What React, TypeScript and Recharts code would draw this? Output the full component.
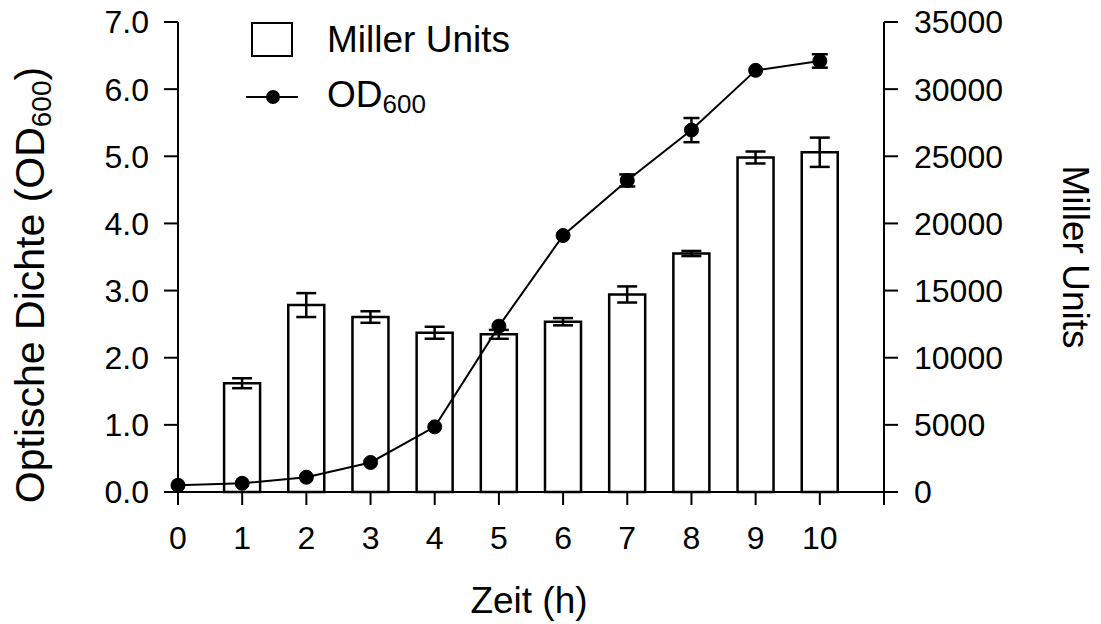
import { ComposedChart, Bar, Line, XAxis, YAxis, ErrorBar } from "recharts";

const hours = [0, 1, 2, 3, 4, 5, 6, 7, 8, 9, 10];
const od600 = [0.1, 0.13, 0.22, 0.44, 0.97, 2.47, 3.82, 4.64, 5.39, 6.28, 6.42];
const od600Err = [0, 0, 0, 0, 0, 0, 0, 0.09, 0.18, 0, 0.1];
const miller = [null, 8100, 13920, 13030, 11860, 11740, 12680, 14710, 17760, 24910, 25300];
const millerErr = [0, 370, 890, 430, 445, 330, 270, 600, 190, 445, 1090];

const xTicks = [0, 1, 2, 3, 4, 5, 6, 7, 8, 9, 10, 11];
const odTicks = [0, 1, 2, 3, 4, 5, 6, 7];
const millerTicks = [0, 5000, 10000, 15000, 20000, 25000, 30000, 35000];

const data = hours.map((h, i) => ({
  h,
  od: od600[i],
  odErr: od600Err[i],
  miller: miller[i],
  millerErr: millerErr[i],
}));

const FONT = "'Liberation Sans', Arial, sans-serif";
const tickStyle = { fontSize: 32, fill: "#000", fontFamily: FONT };
const axisLine = { stroke: "#000", strokeWidth: 2 };

const LeftTitle = ({ viewBox }: any) => {
  const x = viewBox.x + 44;
  const y = 285;
  return (
    <text x={x} y={y} transform={`rotate(-90, ${x}, ${y})`} textAnchor="middle" fontSize={41} fontFamily={FONT} fill="#000">
      Optische Dichte (OD<tspan fontSize={28} dy={7}>600</tspan>
      <tspan dy={-7}>)</tspan>
    </text>
  );
};

const RightTitle = ({ viewBox }: any) => {
  const x = viewBox.x + 179;
  const y = 257;
  return (
    <text x={x} y={y} transform={`rotate(90, ${x}, ${y})`} textAnchor="middle" fontSize={37} fontFamily={FONT} fill="#000">
      Miller Units
    </text>
  );
};

const BottomTitle = ({ viewBox }: any) => (
  <text x={viewBox.x + viewBox.width / 2 - 2} y={viewBox.y + 121} textAnchor="middle" fontSize={37} fontFamily={FONT} fill="#000">
    Zeit (h)
  </text>
);

// legend drawn as an overlay so it doesn't take space from the plot
const LegendBox = () => (
  <svg width={600} height={130} style={{ position: "absolute", left: 0, top: 0, fontFamily: FONT, pointerEvents: "none" }}>
    <rect x={252} y={23} width={40} height={33} fill="#fff" stroke="#000" strokeWidth={2} />
    <text x={327} y={52} fontSize={37} fill="#000">Miller Units</text>
    <line x1={246} y1={97} x2={298} y2={97} stroke="#000" strokeWidth={2} />
    <circle cx={273} cy={97} r={7} fill="#000" />
    <text x={327} y={107} fontSize={37} fill="#000">
      OD<tspan fontSize={26} dy={6}>600</tspan>
    </text>
  </svg>
);

export default function App() {
  return (
    <div style={{ position: "absolute", left: 0, top: 0, width: 1101, height: 624, background: "#fff" }}>
      <ComposedChart width={1101} height={624} data={data} margin={{ top: 22, right: 0, bottom: 0, left: 0 }}>
        <XAxis
          dataKey="h"
          type="number"
          domain={[0, 11]}
          ticks={xTicks}
          interval={0}
          tickFormatter={(v: number) => (v === 11 ? "" : String(v))}
          tick={tickStyle}
          tickSize={13}
          tickMargin={21}
          axisLine={axisLine}
          tickLine={axisLine}
          height={132}
          label={BottomTitle}
        />
        <YAxis
          yAxisId="left"
          domain={[0, 7]}
          ticks={odTicks}
          interval={0}
          tickFormatter={(v: number) => v.toFixed(1)}
          tick={tickStyle}
          tickSize={14}
          tickMargin={15}
          axisLine={axisLine}
          tickLine={axisLine}
          width={178}
          label={LeftTitle}
        />
        <YAxis
          yAxisId="right"
          orientation="right"
          domain={[0, 35000]}
          ticks={millerTicks}
          interval={0}
          tick={tickStyle}
          tickSize={14}
          tickMargin={16}
          axisLine={axisLine}
          tickLine={axisLine}
          width={217}
          label={RightTitle}
        />
        <Bar yAxisId="right" dataKey="miller" barSize={36} fill="#fff" stroke="#000" strokeWidth={2.5} isAnimationActive={false}>
          <ErrorBar dataKey="millerErr" width={10} stroke="#000" strokeWidth={2.5} />
        </Bar>
        <Line
          yAxisId="left"
          dataKey="od"
          type="linear"
          stroke="#000"
          strokeWidth={2}
          dot={{ r: 7, fill: "#000", stroke: "#000", strokeWidth: 1 }}
          isAnimationActive={false}
        >
          <ErrorBar dataKey="odErr" width={8} stroke="#000" strokeWidth={2.5} />
        </Line>
      </ComposedChart>
      <LegendBox />
    </div>
  );
}
